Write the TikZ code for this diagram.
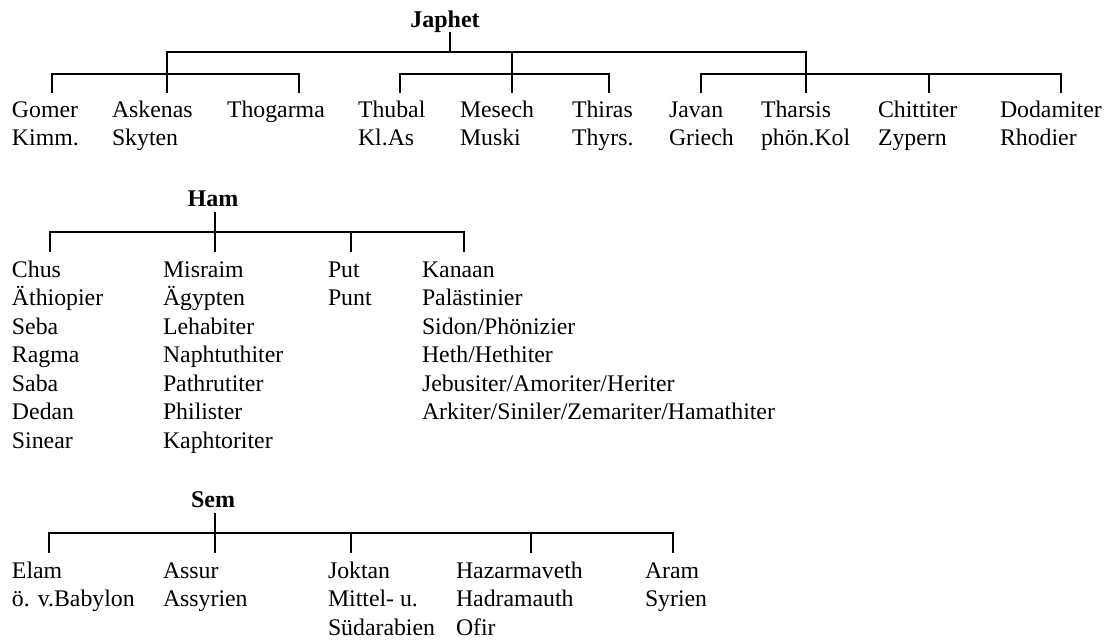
\documentclass[tikz,border=0pt]{standalone}
\usepackage{fontspec}
\setmainfont{Liberation Serif}
\newcommand\stk[1]{\begin{tabular}[t]{@{}l@{}}#1\end{tabular}}
\begin{document}
\begin{tikzpicture}[
  x=1pt,y=-1pt,
  lbl/.style={anchor=base west,inner sep=0pt,outer sep=0pt,font=\fontsize{23.8}{28.5}\selectfont},
  ttl/.style={anchor=base,inner sep=0pt,outer sep=0pt,font=\fontsize{24}{28.5}\selectfont\bfseries},
  con/.style={line width=2.4pt,line join=miter}
]
\useasboundingbox (0,0) rectangle (1109,641);

% ---------------- Japhet ----------------
\node[ttl] (japhet) at (445,27) {Japhet};
\node[lbl] (gomer)    at (12,117)   {\stk{Gomer\\Kimm.}};
\node[lbl] (askenas)  at (112,117)  {\stk{Askenas\\Skyten}};
\node[lbl] (thogarma) at (227,117)  {\stk{Thogarma}};
\node[lbl] (thubal)   at (358,117)  {\stk{Thubal\\Kl.As}};
\node[lbl] (mesech)   at (460,117)  {\stk{Mesech\\Muski}};
\node[lbl] (thiras)   at (572,117)  {\stk{Thiras\\Thyrs.}};
\node[lbl] (javan)    at (669,117)  {\stk{Javan\\Griech}};
\node[lbl] (tharsis)  at (761,117)  {\stk{Tharsis\\phön.Kol}};
\node[lbl] (chittiter) at (878,117) {\stk{Chittiter\\Zypern}};
\node[lbl] (dodamiter) at (1000,117) {\stk{Dodamiter\\Rhodier}};

\coordinate (jTop) at (450,32);
\coordinate (jMid) at (450,52);
\coordinate (jL) at (167,52);
\coordinate (jR) at (806,52);
% group A
\coordinate (a1) at (52,93);  \coordinate (a1h) at (52,74);
\coordinate (a2) at (167,93);
\coordinate (a3) at (299,93); \coordinate (a3h) at (299,74);
% group B
\coordinate (b2) at (512,93);
\coordinate (b1) at (400,93); \coordinate (b1h) at (400,74);
\coordinate (b3) at (609,93); \coordinate (b3h) at (609,74);
% group C
\coordinate (c2) at (806,93);
\coordinate (c1) at (701,93); \coordinate (c1h) at (701,74);
\coordinate (c3) at (929,93); \coordinate (c3h) at (929,74);
\coordinate (c4) at (1061,93); \coordinate (c4h) at (1061,74);

\draw[con] (jTop) -- (jMid);
\draw[con] (a2) -- (jL) -- (jR) -- (c2);
\draw[con] (a1) -- (a1h) -- (a3h) -- (a3);
\draw[con] (jMid -| b2) -- (b2);
\draw[con] (b1) -- (b1h) -- (b3h) -- (b3);
\draw[con] (c1) -- (c1h) -- (c4h) -- (c4);
\draw[con] (c3h) -- (c3);

% ---------------- Ham ----------------
\node[ttl] (ham) at (213,206) {Ham};
\node[lbl] (chus) at (12,277) {\stk{Chus\\Äthiopier\\Seba\\Ragma\\Saba\\Dedan\\Sinear}};
\node[lbl] (misraim) at (163,277) {\stk{Misraim\\Ägypten\\Lehabiter\\Naphtuthiter\\Pathrutiter\\Philister\\Kaphtoriter}};
\node[lbl] (put) at (328,277) {\stk{Put\\Punt}};
\node[lbl] (kanaan) at (422,277) {\stk{Kanaan\\Palästinier\\Sidon/Phönizier\\Heth/Hethiter\\Jebusiter/Amoriter/Heriter\\Arkiter/Siniler/Zemariter/Hamathiter}};

\coordinate (hTop) at (215,212);
\coordinate (hMid) at (215,232);
\coordinate (h1) at (50,252);  \coordinate (h1h) at (50,232);
\coordinate (h2) at (215,252);
\coordinate (h3) at (351,252); \coordinate (h3h) at (351,232);
\coordinate (h4) at (464,252); \coordinate (h4h) at (464,232);
\draw[con] (hTop) -- (h2);
\draw[con] (h1) -- (h1h) -- (h4h) -- (h4);
\draw[con] (h3h) -- (h3);

% ---------------- Sem ----------------
\node[ttl] (sem) at (213,507) {Sem};
\node[lbl] (elam) at (12,578) {\stk{Elam\\ö. v.Babylon}};
\node[lbl] (assur) at (163,578) {\stk{Assur\\Assyrien}};
\node[lbl] (joktan) at (328,578) {\stk{Joktan\\Mittel- u.\\Südarabien}};
\node[lbl] (hazar) at (456,578) {\stk{Hazarmaveth\\Hadramauth\\Ofir}};
\node[lbl] (aram) at (645,578) {\stk{Aram\\Syrien}};

\coordinate (sTop) at (215,513);
\coordinate (sMid) at (215,533);
\coordinate (s1) at (49,553);  \coordinate (s1h) at (49,533);
\coordinate (s2) at (215,553);
\coordinate (s3) at (351,553); \coordinate (s3h) at (351,533);
\coordinate (s4) at (531,553); \coordinate (s4h) at (531,533);
\coordinate (s5) at (673,553); \coordinate (s5h) at (673,533);
\draw[con] (sTop) -- (s2);
\draw[con] (s1) -- (s1h) -- (s5h) -- (s5);
\draw[con] (s3h) -- (s3);
\draw[con] (s4h) -- (s4);
\end{tikzpicture}
\end{document}
